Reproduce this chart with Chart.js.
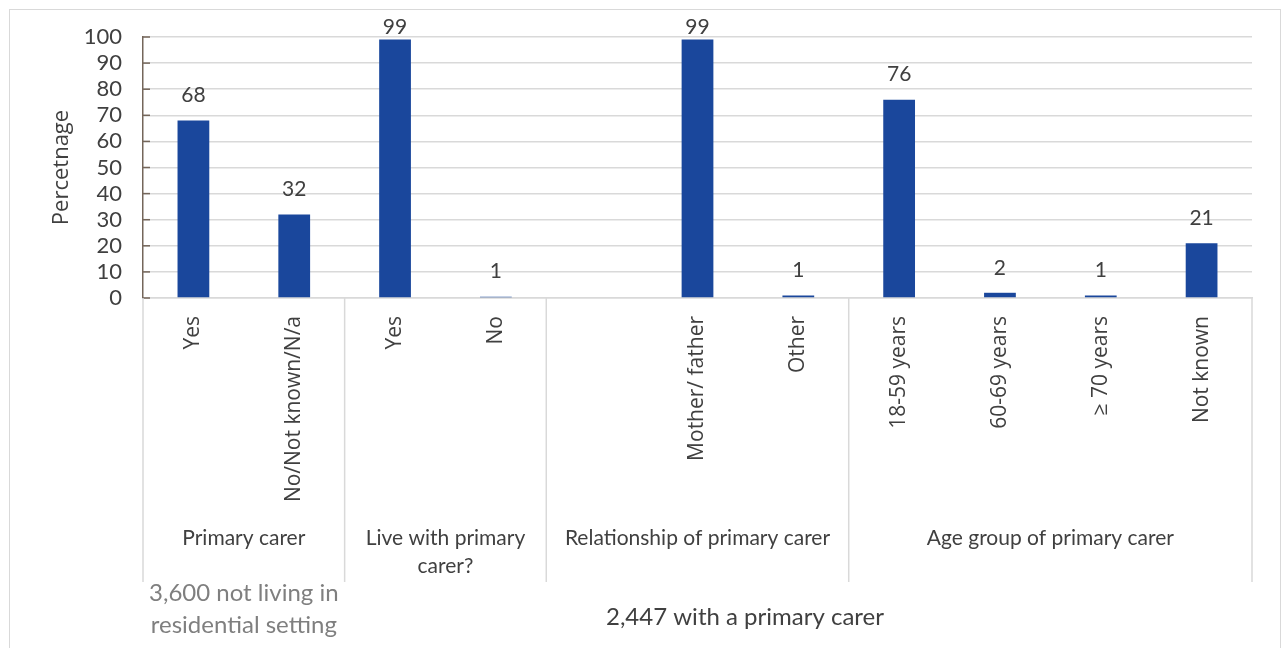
<!DOCTYPE html>
<html>
<head>
<meta charset="utf-8">
<script src="https://cdn.jsdelivr.net/npm/chart.js@4"></script>
<style>
  body { margin: 0; background: #fff; }
  .frame { position: absolute; left: 9px; top: 9px; width: 1270px; height: 700px; border: 1px solid #d9d9d9; }
  .wrap { position: absolute; left: 0; top: 0; width: 1284px; height: 648px; }
</style>
</head>
<body>
<div class="frame"></div>
<div class="wrap"><canvas id="carerChart" width="1284" height="648"></canvas></div>
<script>
// categories (empty slot in the relationship group as in the original)
const categories = ['Yes', 'No/Not known/N/a', 'Yes', 'No', '', 'Mother/ father', 'Other',
    '18-59 years', '60-69 years', '≥ 70 years', 'Not known'];
const percentages = [68, 32, 99, 0.5, null, 99, 1, 76, 2, 1, 21];

const groupNames = [['Primary carer'], ['Live with primary', 'carer?'],
    ['Relationship of primary carer'], ['Age group of primary carer']];
const groupSizes = [2, 2, 3, 4];

const yTicks = [0, 10, 20, 30, 40, 50, 60, 70, 80, 90, 100];

const barColor = '#1a479c';
const axisColor = '#74665a';
const gridColor = '#d9d9d9';

// value labels on top of bars
const valueLabels = {
    id: 'valueLabels',
    afterDatasetsDraw(chart) {
        const ctx = chart.ctx;
        const meta = chart.getDatasetMeta(0);
        ctx.save();
        ctx.font = '21px Lato';
        ctx.fillStyle = '#404040';
        ctx.textAlign = 'center';
        ctx.textBaseline = 'middle';
        meta.data.forEach((bar, i) => {
            const v = percentages[i];
            if (v === null) return;
            ctx.fillText(String(Math.round(v)), bar.x, Math.max(bar.y - 25, 27));
        });
        ctx.restore();
    }
};

// y axis inner ticks, group separators and group labels, footnotes
const groupAxis = {
    id: 'groupAxis',
    afterDraw(chart) {
        const ctx = chart.ctx;
        const x = chart.scales.x;
        const y = chart.scales.y;
        const area = chart.chartArea;
        ctx.save();

        // small inside ticks on the value axis
        ctx.strokeStyle = axisColor;
        ctx.lineWidth = 1.5;
        yTicks.forEach(t => {
            const py = y.getPixelForValue(t);
            ctx.beginPath();
            ctx.moveTo(area.left, py);
            ctx.lineTo(area.left + 7, py);
            ctx.stroke();
        });

        // separators between groups
        const half = (x.getPixelForValue(1) - x.getPixelForValue(0)) / 2;
        let start = 0;
        const bounds = [];
        groupSizes.forEach(n => {
            const left = x.getPixelForValue(start) - half;
            const right = x.getPixelForValue(start + n - 1) + half;
            bounds.push([left, right]);
            start += n;
        });
        ctx.strokeStyle = gridColor;
        ctx.lineWidth = 1.5;
        const edges = [bounds[0][0]].concat(bounds.map(b => b[1]));
        edges.forEach(ex => {
            ctx.beginPath();
            ctx.moveTo(ex, area.bottom);
            ctx.lineTo(ex, 582);
            ctx.stroke();
        });

        // group labels
        ctx.font = '21px Lato';
        ctx.fillStyle = '#404040';
        ctx.textAlign = 'center';
        ctx.textBaseline = 'middle';
        groupNames.forEach((lines, i) => {
            const cx = (bounds[i][0] + bounds[i][1]) / 2;
            lines.forEach((line, j) => {
                ctx.fillText(line, cx, 538 + j * 28);
            });
        });

        // footnotes under the axis
        ctx.font = '24px Lato';
        ctx.fillStyle = '#7f7f7f';
        ctx.fillText('3,600 not living in', (bounds[0][0] + bounds[0][1]) / 2, 593);
        ctx.fillText('residential setting', (bounds[0][0] + bounds[0][1]) / 2, 625);
        ctx.fillStyle = '#404040';
        ctx.fillText('2,447 with a primary carer', 745, 617);

        ctx.restore();
    }
};

const ctx = document.getElementById('carerChart').getContext('2d');
const carerChart = new Chart(ctx, {
    type: 'bar',
    data: {
        labels: categories,
        datasets: [{
            data: percentages,
            backgroundColor: barColor,
            borderWidth: 0,
            barPercentage: 0.315,
            categoryPercentage: 1,
            clip: false
        }]
    },
    options: {
        responsive: false,
        animation: false,
        layout: { padding: { left: 0, top: 37, right: 32, bottom: 0 } },
        plugins: {
            legend: { display: false },
            tooltip: { enabled: false }
        },
        scales: {
            x: {
                afterFit: s => { s.height = 350; },
                grid: { display: false, drawTicks: false },
                border: { display: true, color: gridColor, width: 1.5 },
                ticks: {
                    minRotation: 90,
                    maxRotation: 90,
                    autoSkip: false,
                    padding: 18,
                    color: '#404040',
                    font: { family: 'Open Sans', size: 21 }
                }
            },
            y: {
                min: 0,
                max: 100,
                afterFit: s => { s.width = 143; },
                afterBuildTicks: s => { s.ticks = yTicks.map(v => ({ value: v })); },
                grid: { color: gridColor, lineWidth: 1.5, drawTicks: false },
                border: { display: true, color: axisColor, width: 1.5 },
                ticks: {
                    autoSkip: false,
                    padding: 21,
                    color: '#404040',
                    font: { family: 'Lato', size: 22 }
                },
                title: {
                    display: true,
                    text: 'Percetnage',
                    color: '#404040',
                    font: { family: 'Open Sans', size: 22 },
                    padding: { top: 49, bottom: 0 }
                }
            }
        }
    },
    plugins: [valueLabels, groupAxis]
});
</script>
</body>
</html>
